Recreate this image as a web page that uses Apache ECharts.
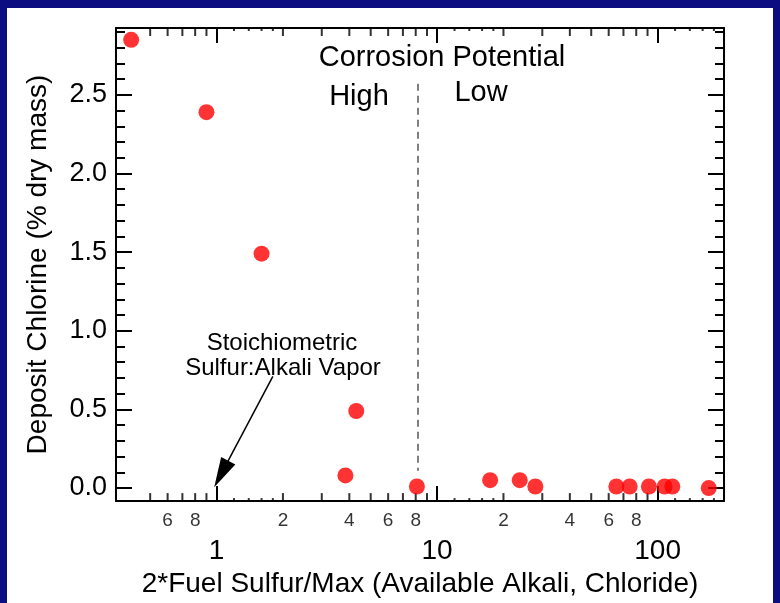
<!DOCTYPE html>
<html>
<head>
<meta charset="utf-8">
<script src="https://cdn.jsdelivr.net/npm/echarts@6/dist/echarts.min.js"></script>
<style>
html,body{margin:0;padding:0;width:780px;height:603px;overflow:hidden;background:#0d0d82;}
#panel{position:absolute;left:7px;top:8px;width:766px;height:595px;background:#ffffff;}
#chart{position:absolute;left:0;top:0;width:780px;height:603px;}
</style>
</head>
<body>
<div id="panel"></div>
<div id="chart"></div>
<script>
// ---- data ----
const xValues = [0.41, 0.90, 1.60, 3.84, 4.30, 8.1, 17.4, 23.7, 27.9, 65.0, 74.7, 91.3, 107.6, 116.6, 170.6];
const yValues = [2.85, 2.39, 1.49, 0.08, 0.49, 0.01, 0.05, 0.05, 0.01, 0.01, 0.01, 0.01, 0.01, 0.01, 0.0];
const majorTicks = [1, 10, 100];
const minorTicks = [0.5, 0.6, 0.7, 0.8, 0.9, 2, 3, 4, 5, 6, 7, 8, 9, 20, 30, 40, 50, 60, 70, 80, 90];
const subMinorTicks = [1.2, 1.4, 1.6, 1.8, 12, 14, 16, 18, 120, 140, 160, 180];
const minorLabelValues = [0.6, 0.8, 2, 4, 6, 8, 20, 40, 60, 80];
const minorLabelTexts = ['6', '8', '2', '4', '6', '8', '2', '4', '6', '8'];
const yTickLabels = ['0.0', '0.5', '1.0', '1.5', '2.0', '2.5'];
const dividerX = 8.2;
const dividerY = [2.57, 0.11];
const arrowFrom = [1.80, 0.71];
const arrowTo = [1.05, 0.09];
const xRange = [0.35, 200];
const yRange = [-0.083, 2.925];

const chart = echarts.init(document.getElementById('chart'), null, {renderer: 'canvas'});
const FONT = '"Liberation Sans", Arial, Helvetica, sans-serif';

function tickSeries(vals, yv, len, top) {
  return {
    type: 'scatter', xAxisIndex: 0, yAxisIndex: 0, silent: true, clip: false, z: 5,
    symbol: 'rect', symbolSize: [2, len], symbolOffset: [0, top ? len / 2 : -len / 2],
    itemStyle: {color: '#000'},
    data: vals.map(v => [v, yv])
  };
}

const axisCommon = {
  axisLine: {show: true, onZero: false, lineStyle: {color: '#000', width: 2}},
  splitLine: {show: false}
};

const option = {
  animation: false,
  backgroundColor: 'transparent',
  textStyle: {fontFamily: FONT, color: '#000'},
  grid: {left: 116, right: 56, top: 28, bottom: 94, containLabel: false},
  xAxis: [
    Object.assign({}, axisCommon, {
      type: 'log', logBase: 10, min: xRange[0], max: xRange[1], position: 'bottom',
      name: '2*Fuel Sulfur/Max (Available Alkali, Chloride)', nameLocation: 'middle', nameGap: 66,
      nameTextStyle: {fontSize: 28, fontFamily: FONT, color: '#000'},
      axisTick: {show: true, inside: true, length: 15, lineStyle: {color: '#000', width: 2}},
      axisLabel: {
        show: true, margin: 36, fontSize: 28, fontFamily: FONT, color: '#000',
        showMinLabel: false, showMaxLabel: false,
        formatter: v => { const m = majorTicks.find(t => Math.abs(t - v) / t < 1e-6); return m ? String(m) : ''; }
      }
    }),
    Object.assign({}, axisCommon, {
      type: 'log', logBase: 10, min: xRange[0], max: xRange[1], position: 'top',
      axisTick: {show: true, inside: true, length: 15, lineStyle: {color: '#000', width: 2}},
      axisLabel: {show: false}
    })
  ],
  yAxis: [
    Object.assign({}, axisCommon, {
      type: 'value', min: yRange[0], max: yRange[1], splitNumber: 6, position: 'left',
      name: 'Deposit Chlorine (% dry mass)', nameLocation: 'middle', nameGap: 64,
      nameTextStyle: {fontSize: 28, fontFamily: FONT, color: '#000'},
      axisTick: {show: true, inside: true, length: 16, lineStyle: {color: '#000', width: 2}},
      minorTick: {show: true, splitNumber: 5, length: 9, lineStyle: {color: '#000', width: 2}},
      axisLabel: {
        show: true, margin: 9, fontSize: 27, fontFamily: FONT, color: '#000',
        showMinLabel: false, showMaxLabel: false,
        formatter: v => { const s = v.toFixed(1); return yTickLabels.indexOf(s) >= 0 && Math.abs(v * 2 - Math.round(v * 2)) < 1e-6 ? s : ''; }
      }
    }),
    Object.assign({}, axisCommon, {
      type: 'value', min: yRange[0], max: yRange[1], splitNumber: 6, position: 'right',
      axisTick: {show: true, inside: true, length: 16, lineStyle: {color: '#000', width: 2}},
      minorTick: {show: true, splitNumber: 5, length: 9, lineStyle: {color: '#000', width: 2}},
      axisLabel: {show: false}
    })
  ],
  graphic: [
    {type: 'text', style: {text: 'Corrosion Potential', x: 442, y: 58, align: 'center', verticalAlign: 'middle', font: '29px ' + FONT, fill: '#000'}},
    {type: 'text', style: {text: 'High', x: 359, y: 97, align: 'center', verticalAlign: 'middle', font: '29px ' + FONT, fill: '#000'}},
    {type: 'text', style: {text: 'Low', x: 481, y: 93, align: 'center', verticalAlign: 'middle', font: '29px ' + FONT, fill: '#000'}},
    {type: 'text', style: {text: 'Stoichiometric', x: 282, y: 343, align: 'center', verticalAlign: 'middle', font: '24px ' + FONT, fill: '#000'}},
    {type: 'text', style: {text: 'Sulfur:Alkali Vapor', x: 283, y: 368, align: 'center', verticalAlign: 'middle', font: '24px ' + FONT, fill: '#000'}}
  ],
  series: [
    {
      type: 'scatter', name: 'Deposit Chlorine', z: 10,
      symbol: 'circle', symbolSize: 16,
      itemStyle: {color: '#ff0000'},
      data: xValues.map((x, i) => [x, yValues[i]])
    },
    {
      type: 'line', name: 'divider', silent: true, z: 3, data: [],
      markLine: {
        silent: true, animation: false, symbol: ['none', 'none'],
        label: {show: false},
        lineStyle: {color: '#555', width: 1.5, type: [7, 5]},
        data: [[{coord: [dividerX, dividerY[0]]}, {coord: [dividerX, dividerY[1]]}]]
      }
    },
    {
      type: 'line', name: 'arrow', silent: true, z: 3, data: [],
      markLine: {
        silent: true, animation: false, symbol: ['none', 'triangle'], symbolSize: [16, 30],
        label: {show: false},
        lineStyle: {color: '#000', width: 1.5, type: 'solid'},
        itemStyle: {color: '#000'},
        data: [[{coord: arrowFrom}, {coord: arrowTo}]]
      }
    },
    tickSeries(minorTicks, yRange[0], 8, false),
    tickSeries(minorTicks, yRange[1], 8, true),
    tickSeries(subMinorTicks, yRange[0], 3, false),
    tickSeries(subMinorTicks, yRange[1], 3, true),
    {
      type: 'scatter', silent: true, clip: false, z: 5,
      symbol: 'circle', symbolSize: 1, itemStyle: {color: 'transparent'},
      label: {show: true, position: 'bottom', distance: 10, fontSize: 19, fontFamily: FONT, color: '#000',
        formatter: p => p.data[2]},
      data: minorLabelValues.map((v, i) => [v, yRange[0], minorLabelTexts[i]])
    }
  ]
};
chart.setOption(option);
</script>
</body>
</html>
